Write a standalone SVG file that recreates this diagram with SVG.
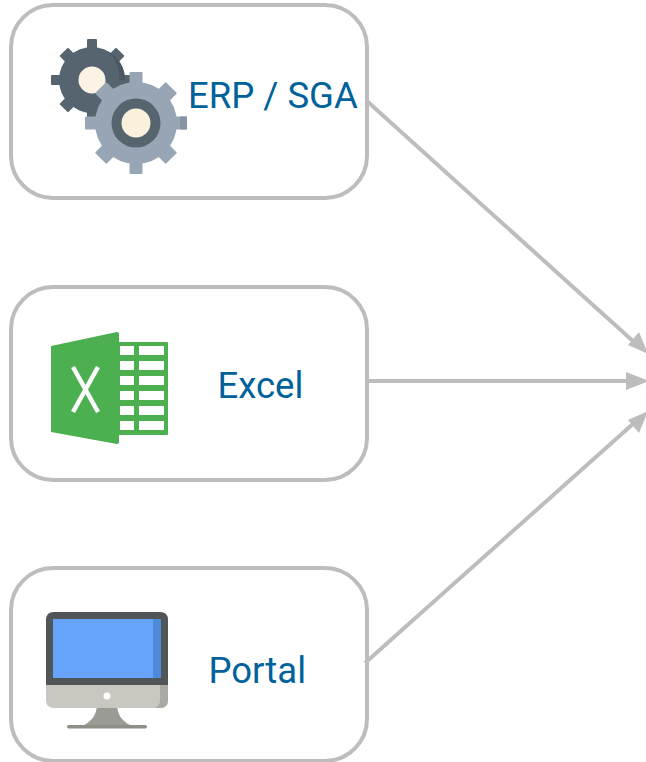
<svg xmlns="http://www.w3.org/2000/svg" width="646" height="762" viewBox="0 0 646 762">
<style>
.box{fill:#fff;stroke:#bdbdbd;stroke-width:4}
.lbl{font-family:Roboto,"Liberation Sans",sans-serif;font-size:36.5px;fill:#00629b}
.cn{fill:none;stroke:#bdbdbd;stroke-width:4}
.head{fill:#bdbdbd}
</style>
<defs>
<g id="t1"><rect x="-5" y="-41" width="10" height="14" rx="1"/></g>
<g id="t1d"><rect x="-6" y="-40" width="12" height="14" rx="1"/></g>
<g id="t2"><rect x="-6.500" y="-51" width="13" height="16" rx="1"/></g>
<g id="t2d"><rect x="-8" y="-50" width="16" height="16" rx="1"/></g>
</defs>
<rect width="646" height="762" fill="#fff"/>
<g id="node-erp">
<rect class="box" x="11" y="5" width="356" height="193" rx="42"/>
<g fill="#55646f" transform="translate(92 80)">
<use href="#t1"/><use href="#t1d" transform="rotate(45)"/><use href="#t1" transform="rotate(90)"/><use href="#t1d" transform="rotate(135)"/><use href="#t1" transform="rotate(180)"/><use href="#t1d" transform="rotate(225)"/><use href="#t1" transform="rotate(270)"/><use href="#t1d" transform="rotate(315)"/>
<circle r="33"/>
<path d="M20 -26A33 33 0 0 1 33 0H27A33 33 0 0 0 15 -29Z" fill="#4a5862"/>
<circle r="13.500" fill="#fbf3e4"/>
</g>
<g fill="#97a5b5" transform="translate(136 123)">
<use href="#t2"/><use href="#t2d" transform="rotate(45)"/><use href="#t2" transform="rotate(90)"/><use href="#t2d" transform="rotate(135)"/><use href="#t2" transform="rotate(180)"/><use href="#t2d" transform="rotate(225)"/><use href="#t2" transform="rotate(270)"/><use href="#t2d" transform="rotate(315)"/>
<circle r="41"/>
<rect x="44" y="-6.500" width="7" height="13" fill="#8695a6"/>
<circle r="24.500" fill="#55646f"/>
<circle r="14.500" fill="#fbf0dc"/>
</g>
<text class="lbl" x="188" y="108">ERP / SGA</text>
</g>
<g id="node-excel">
<rect class="box" x="11" y="287" width="356" height="193" rx="42"/>
<rect x="117" y="342" width="51" height="93" rx="1" fill="#4caf50"/>
<g fill="#fff">
<rect x="120" y="346" width="14" height="9"/><rect x="139" y="346" width="25" height="9"/>
<rect x="120" y="361" width="14" height="9"/><rect x="139" y="361" width="25" height="9"/>
<rect x="120" y="376" width="14" height="9"/><rect x="139" y="376" width="25" height="9"/>
<rect x="120" y="391" width="14" height="9"/><rect x="139" y="391" width="25" height="9"/>
<rect x="120" y="406" width="14" height="9"/><rect x="139" y="406" width="25" height="9"/>
<rect x="120" y="421" width="14" height="9"/><rect x="139" y="421" width="25" height="9"/>
</g>
<path d="M51 346L117 332Q119 332 119 334V442Q119 444 117 444L51 432Z" fill="#4caf50"/>
<path d="M73 367L98 412M98 367L73 412" stroke="#fff" stroke-width="4.500" fill="none"/>
<text class="lbl" x="217.500" y="398">Excel</text>
</g>
<g id="node-portal">
<rect class="box" x="11" y="568" width="356" height="193" rx="42"/>
<path d="M97 706H117C118 715 122 721 130 725H84C92 721 96 715 97 706Z" fill="#9a9b94"/>
<rect x="67" y="725" width="80" height="3.500" rx="1.700" fill="#8d8f88"/>
<path d="M46 684H168V700Q168 708 160 708H54Q46 708 46 700Z" fill="#c9c8c0"/>
<path d="M160 684H168V700Q168 708 160 708H155Q160 706 160 700Z" fill="#a9a9a2"/>
<path d="M54 612H160Q168 612 168 620V685H46V620Q46 612 54 612Z" fill="#505558"/>
<rect x="53" y="619" width="108" height="59" fill="#66a3fb"/>
<rect x="153" y="619" width="8" height="59" fill="#4e8ad9"/>
<circle cx="107" cy="696" r="3.500" fill="#fff"/>
<text class="lbl" x="208.500" y="683">Portal</text>
</g>
<g id="connectors">
<path class="cn" d="M368 102L634 342"/>
<path class="head" d="M648 354L628 345L639 332Z"/>
<path class="cn" d="M368 381H630"/>
<path class="head" d="M649 381L626 372V390Z"/>
<path class="cn" d="M365 663L634 423"/>
<path class="head" d="M648 411L628 420L639 433Z"/>
</g>
</svg>
